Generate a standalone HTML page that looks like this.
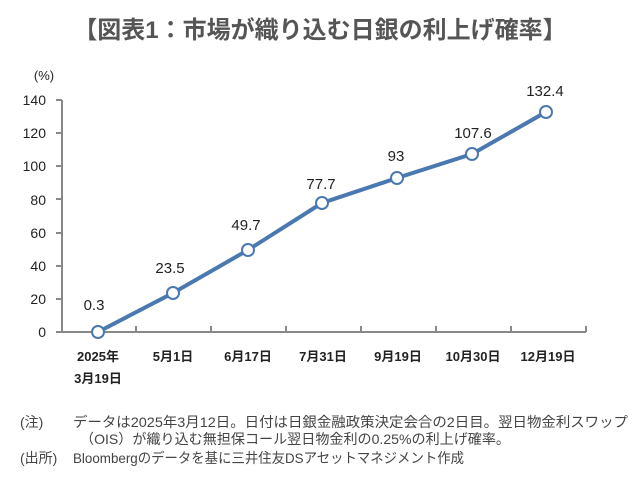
<!DOCTYPE html>
<html><head><meta charset="utf-8"><style>
body{margin:0;background:#fff;width:640px;height:483px;overflow:hidden}
svg{font-family:"Liberation Sans","Noto Sans CJK JP",sans-serif}
</style></head><body>
<svg width="640" height="483" viewBox="0 0 640 483">
<text x="320" y="38" text-anchor="middle" font-size="24" font-weight="bold" fill="#555">【図表1：市場が織り込む日銀の利上げ確率】</text>
<g font-size="14" fill="#222" text-anchor="end">
<text x="44" y="80" text-anchor="middle" font-size="13">(%)</text>
<text x="46" y="105">140</text><text x="46" y="138">120</text><text x="46" y="171">100</text>
<text x="46" y="205">80</text><text x="46" y="238">60</text><text x="46" y="271">40</text>
<text x="46" y="304">20</text><text x="46" y="337">0</text>
</g>
<g stroke="#888" stroke-width="2" fill="none">
<path d="M62 100V332H586"/>
<path d="M56 100H62M56 133H62M56 166H62M56 199H62M56 233H62M56 266H62M56 299H62M56 332H62"/>
<path d="M136 332v-6M211 332v-6M286 332v-6M361 332v-6M436 332v-6M511 332v-6M586 332v-6"/>
</g>
<polyline points="98,332 173,293 248,250 322,203 397,178 472,154 546,112" fill="none" stroke="#4a78b0" stroke-width="4"/>
<g fill="#fff" stroke="#4a78b0" stroke-width="2">
<circle cx="98" cy="332" r="6"/><circle cx="173" cy="293" r="6"/><circle cx="248" cy="250" r="6"/>
<circle cx="322" cy="203" r="6"/><circle cx="397" cy="178" r="6"/><circle cx="472" cy="154" r="6"/><circle cx="546" cy="112" r="6"/>
</g>
<g font-size="15" fill="#222" text-anchor="middle">
<text x="94" y="310">0.3</text><text x="170" y="273">23.5</text><text x="246" y="230">49.7</text>
<text x="321" y="189">77.7</text><text x="396" y="161">93</text><text x="473" y="138">107.6</text><text x="545" y="96">132.4</text>
</g>
<g font-size="13" fill="#222" text-anchor="middle" font-weight="bold">
<text x="98" y="361">2025年</text><text x="98" y="383">3月19日</text>
<text x="173" y="361">5月1日</text><text x="248" y="361">6月17日</text><text x="323" y="361">7月31日</text>
<text x="398" y="361">9月19日</text><text x="473" y="361">10月30日</text><text x="548" y="361">12月19日</text>
</g>
<g font-size="14" fill="#444">
<text x="20" y="427">(注)</text>
<text x="73" y="427" textLength="555" lengthAdjust="spacingAndGlyphs">データは2025年3月12日。日付は日銀金融政策決定会合の2日目。翌日物金利スワップ</text>
<text x="80" y="444" textLength="430" lengthAdjust="spacingAndGlyphs">（OIS）が織り込む無担保コール翌日物金利の0.25%の利上げ確率。</text>
<text x="20" y="463">(出所)</text>
<text x="73" y="463" textLength="391" lengthAdjust="spacingAndGlyphs">Bloombergのデータを基に三井住友DSアセットマネジメント作成</text>
</g>
</svg>
</body></html>
